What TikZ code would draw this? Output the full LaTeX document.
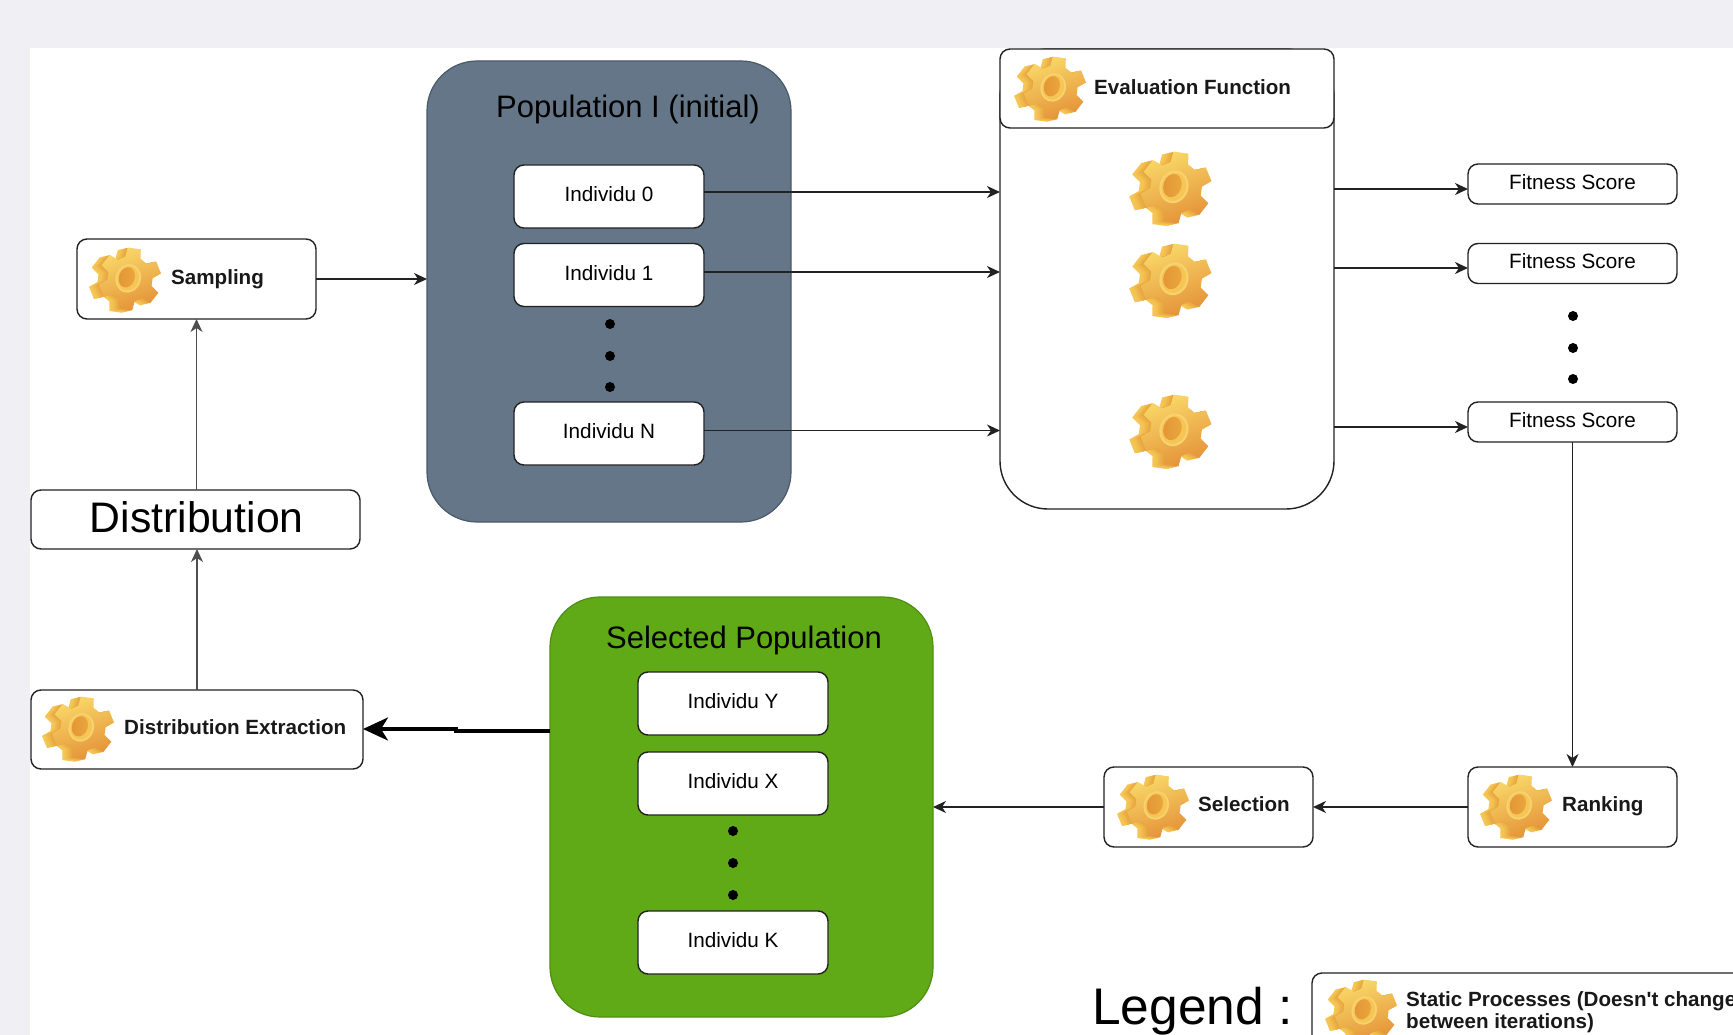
\documentclass[tikz,border=0pt]{standalone}
\usepackage{fontspec}
\setmainfont{Liberation Sans}
\newfontfamily\rawsans{Liberation Sans}
\usetikzlibrary{arrows.meta}
\definecolor{pagebg}{HTML}{F0EFF4}
\definecolor{slatefill}{HTML}{647687}
\definecolor{slateline}{HTML}{4A5A6A}
\definecolor{greenfill}{HTML}{60A917}
\definecolor{greenline}{HTML}{4F8F12}
\definecolor{ink}{HTML}{222222}
\definecolor{gearside}{HTML}{F6C655}
\definecolor{gearedge}{HTML}{E39F3A}
\definecolor{gearlight}{HTML}{F9D869}
\definecolor{geardark}{HTML}{E49238}
\definecolor{gearrim}{HTML}{F8D270}
\definecolor{gearhole}{HTML}{E39634}
\tikzset{
  boxbase/.style={draw=ink,line width=1.4pt,fill=white,rounded corners=10pt,inner sep=0pt,outer sep=0pt,text=black},
  indiv/.style={boxbase,minimum width=190pt,minimum height=63pt,font=\fontsize{20.7}{24}\selectfont,text height=15pt,text depth=5pt},
  fitbox/.style={boxbase,minimum width=209pt,minimum height=40pt,font=\fontsize{20.7}{24}\selectfont,text height=15pt,text depth=4pt},
  gearbox/.style={boxbase,minimum height=80pt},
  gearlabel/.style={anchor=west,inner sep=0pt,font=\bfseries\fontsize{20.6}{22}\selectfont,text=black!90},
  bigpop/.style={rounded corners=50pt,inner sep=0pt,outer sep=0pt,line width=1.2pt},
  poplabel/.style={inner sep=0pt,font=\fontsize{31}{36}\selectfont,text=black},
  dotmark/.style={circle,fill=black,inner sep=0pt,minimum size=10pt},
  link/.style={draw=ink,line width=1.6pt,-{Stealth[length=13pt,width=12pt,inset=4pt]}},
  gear/.pic={
    \begin{scope}[rotate=22]
      \foreach \d/\p in {.32/100,.28/100,.24/90,.2/80,.16/65,.12/50,.08/35,.04/20}{
        \fill[gearside!\p!gearedge,shift={(-\d,-\d*.15)}] (-12:1) \foreach \a in {0,60,...,300}{ -- (\a-12:1) -- (\a+12:1) -- (\a+20:.72) -- (\a+40:.72)} -- cycle;
      }
      \shade[left color=gearlight,right color=geardark,shading angle=20] (-12:1) \foreach \a in {0,60,...,300}{ -- (\a-12:1) -- (\a+12:1) -- (\a+20:.72) -- (\a+40:.72)} -- cycle;
    \end{scope}
    \begin{scope}[rotate=-18]
      \fill[gearrim] (-.06,0) ellipse (.40 and .46);
      \fill[gearside] (-.06,0) ellipse (.34 and .40);
      \shade[left color=gearhole,right color=gearhole!65!gearside] (-.11,-.02) ellipse (.25 and .33);
    \end{scope}
  }
}
\begin{document}
\begin{tikzpicture}[x=1pt,y=-1pt]
\useasboundingbox (0,0) rectangle (1733,1035);
\clip (0,0) rectangle (1733,1035);
\fill[pagebg] (0,0) rectangle (1733,1035);
\fill[white] (30,48) rectangle (1733,1035);

% Population I
\node[bigpop,draw=slateline,fill=slatefill,minimum width=364pt,minimum height=461pt] (pop) at (609,291.5) {};
\node[poplabel] (poptxt) at (628,109) {Population I (initial)};
\node[indiv] (ind0) at (609,196.5) {Individu 0};
\node[indiv] (ind1) at (609,275) {Individu 1};
\node[indiv] (indN) at (609,433.5) {Individu N};
\node[dotmark] (pd1) at (610,324) {};
\node[dotmark] (pd2) at (610,356) {};
\node[dotmark] (pd3) at (610,387) {};

% Evaluation
\node[boxbase,rounded corners=48pt,minimum width=334pt,minimum height=460pt] (eval) at (1167,279) {};
\node[boxbase,minimum width=334pt,minimum height=79pt] (evalh) at (1167,88.5) {};
\node[gearlabel] (evalt) at (1094,87) {Evaluation Function};
\pic[scale=31.5] (ge0) at (1055,88) {gear};
\pic[scale=36] (ge1) at (1176,187.5) {gear};
\pic[scale=36] (ge2) at (1176,279.5) {gear};
\pic[scale=36] (ge3) at (1176,430.5) {gear};

% Fitness
\node[fitbox] (fit0) at (1572.5,184) {Fitness Score};
\node[fitbox] (fit1) at (1572.5,263.5) {Fitness Score};
\node[fitbox] (fitN) at (1572.5,422) {Fitness Score};
\node[dotmark] (fd1) at (1573,316) {};
\node[dotmark] (fd2) at (1573,348) {};
\node[dotmark] (fd3) at (1573,379) {};

% Ranking, Selection
\node[gearbox,minimum width=209pt] (rank) at (1572.5,807) {};
\node[gearlabel] (rankt) at (1562,806) {Ranking};
\pic[scale=31.5] (gr) at (1521,806) {gear};
\node[gearbox,minimum width=209pt] (sel) at (1208.5,807) {};
\node[gearlabel] (selt) at (1198,804) {Selection};
\pic[scale=31.5] (gs) at (1158,806) {gear};

% Selected population
\node[bigpop,draw=greenline,fill=greenfill,minimum width=383pt,minimum height=420pt] (spop) at (741.5,807) {};
\node[poplabel] (spoptxt) at (744,640) {Selected Population};
\node[indiv] (indY) at (733,703.5) {Individu Y};
\node[indiv] (indX) at (733,783.5) {Individu X};
\node[indiv] (indK) at (733,942.5) {Individu K};
\node[dotmark] (sd1) at (733,831) {};
\node[dotmark] (sd2) at (733,863) {};
\node[dotmark] (sd3) at (733,895) {};

% Left column
\node[gearbox,minimum width=239pt] (samp) at (196.5,279) {};
\node[gearlabel] (sampt) at (171,279) {Sampling};
\pic[scale=31.5] (g1) at (130,279) {gear};
\node[boxbase,minimum width=329pt,minimum height=59pt,font=\fontsize{42.7}{48}\selectfont,text height=31pt,text depth=4.5pt,xshift=0pt] (dist) at (195.5,519.5) {\hspace*{2.5pt}Distribution};
\node[gearbox,minimum width=332pt,minimum height=79pt] (dext) at (197,729.5) {};
\node[gearlabel] (dextt) at (124,727) {Distribution Extraction};
\pic[scale=31.5] (g2) at (83,728) {gear};

% Legend
\node[inner sep=0pt,font=\fontsize{51.5}{58}\selectfont,text=black,anchor=west] (legt) at (1092,1011) {Legend :};
\node[boxbase,minimum width=488pt,minimum height=120pt] (legb) at (1556,1033) {};
\node[anchor=north west,inner sep=0pt,align=left,font=\rawsans\bfseries\fontsize{20.6}{22}\selectfont,text=black!90] (legtx) at (1406,991) {Static Processes (Doesn't change\\between iterations)};
\pic[scale=31.5] (g3) at (1366,1011) {gear};

% Connectors
\draw[link] (samp.east) -- (samp.east -| pop.west);
\draw[link] ([yshift=4.5pt]ind0.east) -- ([yshift=4.5pt]ind0.east -| eval.west);
\draw[link] ([yshift=3pt]ind1.east) -- ([yshift=3pt]ind1.east -| eval.west);
\draw[link] ([yshift=3pt]indN.east) -- ([yshift=3pt]indN.east -| eval.west);
\draw[link] ([yshift=-5pt]fit0.west -| eval.east) -- ([yshift=-5pt]fit0.west);
\draw[link] ([yshift=-4.5pt]fit1.west -| eval.east) -- ([yshift=-4.5pt]fit1.west);
\draw[link] ([yshift=-5pt]fitN.west -| eval.east) -- ([yshift=-5pt]fitN.west);
\draw[link] (fitN.south) -- (rank.north);
\draw[link] (rank.west) -- (sel.east);
\draw[link] (sel.west) -- (sel.west -| spop.east);
\draw[link,draw=ink!80] (dext.north) -- (dext.north |- dist.south);
\draw[link,draw=ink!80] (dist.north -| samp.south) -- (samp.south);
\coordinate (thkA) at (456,731);
\coordinate (thkB) at (456,729);
\draw[line width=3.4pt,black] (thkA -| spop.west) -- ([xshift=-2pt]thkA);
\draw[line width=3.4pt,black,-{Stealth[length=25pt,width=23pt,inset=7pt]}] ([xshift=2pt]thkB) -- (thkB -| dext.east);
\end{tikzpicture}
\end{document}
